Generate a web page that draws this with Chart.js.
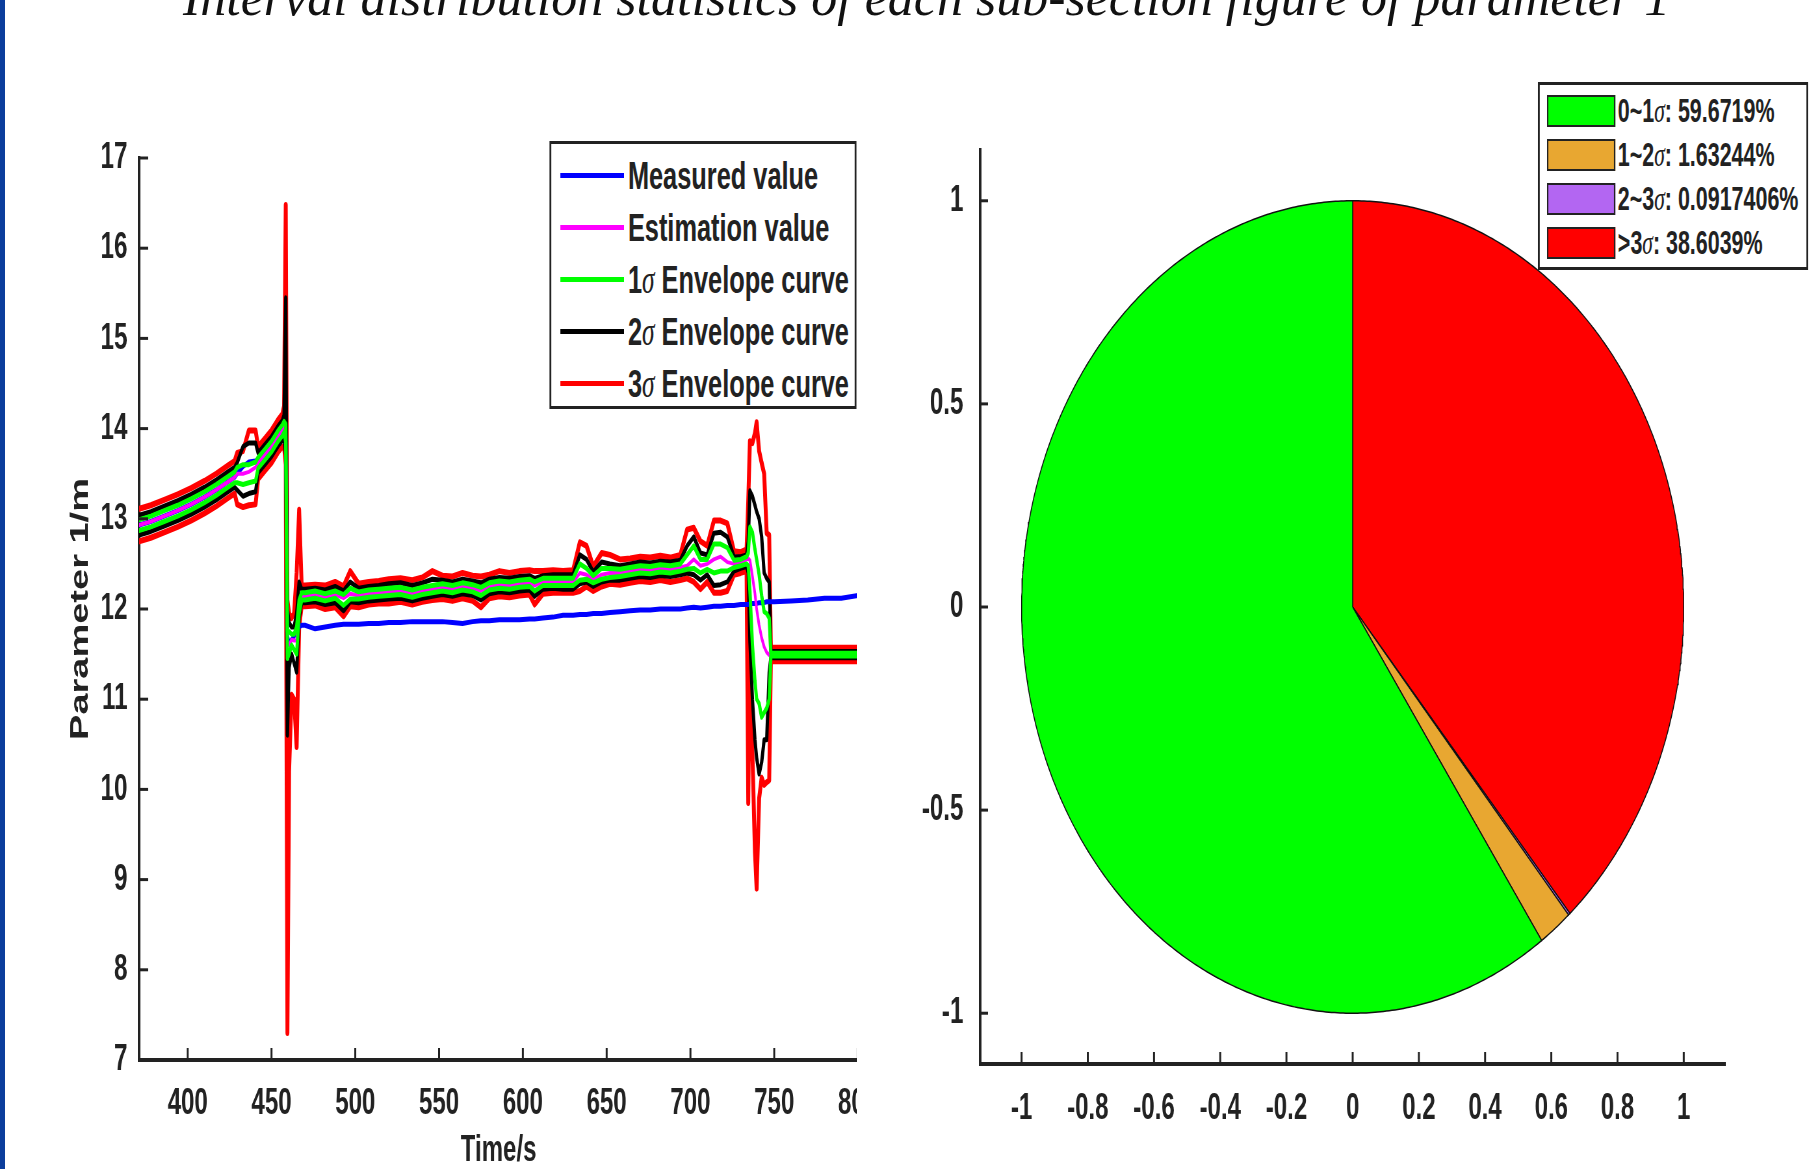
<!DOCTYPE html>
<html>
<head>
<meta charset="utf-8">
<title>Interval distribution statistics of each sub-section figure of parameter 1</title>
<script src="https://cdn.jsdelivr.net/npm/chart.js@4.4.1/dist/chart.umd.min.js"></script>
<style>
html, body { margin: 0; padding: 0; background: #fff; overflow: hidden; }
body { width: 1812px; height: 1169px; position: relative; }
#edge { position: absolute; left: 0; top: 0; width: 5px; height: 1169px; background: #0b3d9c; }
#title { position: absolute; left: 183px; top: -28px; font: italic 52px/52px "Liberation Serif", "DejaVu Serif", serif; color: #111; white-space: nowrap; }
/* the figure in the reference is squeezed sideways, so draw it wider and squeeze it */
#fig { position: absolute; left: 0; top: 0; width: 2788px; height: 1169px; transform: scaleX(0.65); transform-origin: 0 0;
       font-family: "Liberation Sans", Arial, sans-serif; font-weight: bold; color: #222; }
#leftWrap { position: absolute; left: 0; top: 0; width: 1317px; height: 1169px; overflow: hidden; }
#lineChart { position: absolute; left: 0; top: 0; }
#pieWrap { position: absolute; left: 1330px; top: 0; width: 1458px; height: 1169px; }
.box { position: absolute; background: #fff; border: 3px solid #222; box-sizing: border-box; }
.row { position: absolute; white-space: nowrap; }
.sig { font-family: "Liberation Serif", serif; font-style: italic; font-weight: normal; }
</style>
</head>
<body>
<div id="edge"></div>
<div id="title">Interval distribution statistics of each sub-section figure of parameter 1</div>
<div id="fig">
  <div id="leftWrap"><canvas id="lineChart" width="1400" height="1169"></canvas></div>
  <div id="pieWrap"><canvas id="pieChart" width="1458" height="1169"></canvas></div>
  <div id="lineLegend" class="box" style="left:845px; top:141px; width:473px; height:268px;"></div>
  <div id="pieLegend" class="box" style="left:2366px; top:82px; width:416px; height:188px;"></div>
</div>
<script>
// time axis (s)
const time = [
  371, 378, 386, 394, 402, 410, 417, 424, 428, 429.5, 433, 436.5, 440.5, 442, 446, 450, 454, 456.5,
  457.5, 458.5, 459.5, 460.5, 462, 463.5, 465, 466.5, 468,
  470, 476, 482, 488, 493, 497, 502, 508, 514, 520,
  527, 534, 540, 546, 552, 558, 564, 570, 575, 580,
  586, 592, 598, 604, 607, 612, 618, 624, 630, 634,
  638, 642, 647, 652, 658, 664, 670, 676, 682, 688,
  694, 698, 702, 706, 710, 714, 718, 722, 726, 730,
  733.5, 734.5, 735.5, 737, 738.5, 739.5, 741, 742.5, 744, 745.5, 747, 748,
  750, 760, 770, 780, 790, 800
];

const measured = [
  12.93, 12.97, 13.03, 13.09, 13.16, 13.24, 13.32, 13.41, 13.46, 13.50, 13.58, 13.63, 13.64, 13.62, 13.71, 13.80, 13.92, 13.98,
  14.02, 13.95, 11.70, 11.62, 11.66, 11.70, 11.75, 11.80, 11.82,
  11.82, 11.78, 11.80, 11.82, 11.83, 11.83, 11.83, 11.84, 11.84, 11.85,
  11.85, 11.86, 11.86, 11.86, 11.86, 11.85, 11.84, 11.86, 11.87, 11.87,
  11.88, 11.88, 11.88, 11.89, 11.89, 11.90, 11.91, 11.93, 11.93, 11.94,
  11.94, 11.95, 11.95, 11.96, 11.97, 11.98, 11.99, 11.99, 12.00, 12.00,
  12.00, 12.01, 12.02, 12.01, 12.02, 12.03, 12.03, 12.04, 12.04, 12.05,
  12.05, 12.05, 12.06, 12.06, 12.06, 12.06, 12.07, 12.07, 12.07, 12.08, 12.08, 12.08,
  12.08, 12.09, 12.10, 12.12, 12.12, 12.15
];

const estimate = [
  12.93, 12.97, 13.03, 13.09, 13.16, 13.24, 13.32, 13.41, 13.46, 13.50, 13.50, 13.52, 13.57, 13.62, 13.71, 13.80, 13.92, 13.98,
  14.02, 13.95, 11.60, 11.60, 11.66, 11.65, 11.65, 12.00, 12.14,
  12.14, 12.16, 12.13, 12.16, 12.12, 12.17, 12.15, 12.17, 12.18, 12.19,
  12.20, 12.17, 12.20, 12.22, 12.24, 12.22, 12.25, 12.23, 12.20, 12.25,
  12.27, 12.26, 12.28, 12.29, 12.26, 12.30, 12.30, 12.30, 12.30, 12.40,
  12.38, 12.33, 12.38, 12.40, 12.40, 12.42, 12.44, 12.43, 12.45, 12.44,
  12.46, 12.48, 12.55, 12.48, 12.50, 12.55, 12.58, 12.52, 12.50, 12.52,
  12.55, 12.56, 12.54, 12.36, 12.17, 12.00, 11.82, 11.68, 11.58, 11.52, 11.49, 11.49,
  11.49, 11.49, 11.49, 11.49, 11.49, 11.49
];

const sigma1Upper = [
  12.99, 13.03, 13.09, 13.15, 13.22, 13.30, 13.38, 13.47, 13.52, 13.57, 13.60, 13.60, 13.63, 13.68, 13.77, 13.86, 13.98, 14.04,
  14.08, 14.05, 11.75, 11.75, 11.72, 11.72, 11.80, 12.10, 12.18,
  12.18, 12.20, 12.17, 12.20, 12.16, 12.23, 12.19, 12.21, 12.22, 12.23,
  12.24, 12.21, 12.24, 12.26, 12.28, 12.26, 12.29, 12.27, 12.24, 12.29,
  12.31, 12.30, 12.32, 12.33, 12.30, 12.34, 12.34, 12.34, 12.34, 12.50,
  12.45, 12.37, 12.45, 12.45, 12.44, 12.46, 12.48, 12.47, 12.49, 12.48,
  12.50, 12.60, 12.70, 12.55, 12.55, 12.72, 12.72, 12.68, 12.54, 12.55,
  12.58, 12.62, 12.91, 12.85, 12.66, 12.55, 12.38, 12.15, 11.97, 11.95, 11.90, 11.51,
  11.51, 11.51, 11.51, 11.51, 11.51, 11.51
];

const sigma1Lower = [
  12.87, 12.91, 12.97, 13.03, 13.10, 13.18, 13.26, 13.35, 13.40, 13.40, 13.38, 13.40, 13.42, 13.56, 13.65, 13.74, 13.86, 13.92,
  13.96, 13.85, 11.45, 11.50, 11.60, 11.55, 11.50, 11.95, 12.10,
  12.10, 12.12, 12.09, 12.12, 12.04, 12.11, 12.11, 12.13, 12.14, 12.15,
  12.16, 12.13, 12.16, 12.18, 12.20, 12.18, 12.21, 12.19, 12.15, 12.21,
  12.23, 12.22, 12.24, 12.25, 12.20, 12.26, 12.26, 12.26, 12.26, 12.32,
  12.33, 12.29, 12.33, 12.35, 12.36, 12.38, 12.40, 12.39, 12.41, 12.40,
  12.42, 12.44, 12.45, 12.40, 12.44, 12.40, 12.42, 12.42, 12.46, 12.48,
  12.50, 12.48, 12.20, 11.60, 11.20, 11.00, 10.95, 10.80, 10.85, 10.90, 11.00, 11.48,
  11.48, 11.48, 11.48, 11.48, 11.48, 11.48
];

const sigma2Upper = [
  13.04, 13.08, 13.14, 13.20, 13.27, 13.35, 13.43, 13.52, 13.57, 13.62, 13.80, 13.84, 13.84, 13.73, 13.82, 13.91, 14.03, 14.09,
  14.15, 15.45, 12.00, 11.85, 11.80, 11.80, 11.95, 12.30, 12.22,
  12.22, 12.23, 12.21, 12.25, 12.20, 12.30, 12.23, 12.25, 12.26, 12.28,
  12.29, 12.26, 12.29, 12.33, 12.32, 12.30, 12.33, 12.31, 12.29, 12.33,
  12.35, 12.34, 12.36, 12.37, 12.34, 12.37, 12.38, 12.38, 12.38, 12.60,
  12.55, 12.41, 12.52, 12.50, 12.48, 12.50, 12.52, 12.51, 12.53, 12.52,
  12.54, 12.70, 12.80, 12.62, 12.60, 12.84, 12.85, 12.80, 12.58, 12.58,
  12.60, 12.75, 13.31, 13.25, 13.15, 13.08, 13.00, 12.80, 12.40, 12.34, 12.30, 11.53,
  11.53, 11.53, 11.53, 11.53, 11.53, 11.53
];

const sigma2Lower = [
  12.82, 12.86, 12.92, 12.98, 13.05, 13.13, 13.21, 13.30, 13.35, 13.32, 13.25, 13.28, 13.30, 13.51, 13.60, 13.69, 13.81, 13.87,
  13.90, 13.70, 10.60, 11.35, 11.50, 11.40, 11.30, 11.90, 12.07,
  12.07, 12.08, 12.05, 12.07, 11.98, 12.08, 12.07, 12.09, 12.10, 12.11,
  12.12, 12.09, 12.12, 12.14, 12.16, 12.14, 12.17, 12.15, 12.10, 12.17,
  12.19, 12.18, 12.20, 12.21, 12.14, 12.22, 12.23, 12.22, 12.22, 12.28,
  12.30, 12.25, 12.30, 12.32, 12.32, 12.34, 12.36, 12.35, 12.37, 12.36,
  12.38, 12.40, 12.38, 12.32, 12.38, 12.26, 12.27, 12.30, 12.42, 12.45,
  12.47, 12.40, 11.64, 11.00, 10.55, 10.35, 10.17, 10.30, 10.55, 10.55, 11.30, 11.46,
  11.46, 11.46, 11.46, 11.46, 11.46, 11.46
];

const sigma3Upper = [
  13.11, 13.15, 13.21, 13.27, 13.34, 13.42, 13.50, 13.59, 13.64, 13.73, 13.75, 13.98, 13.98, 13.80, 13.89, 13.98, 14.10, 14.16,
  14.25, 16.48, 12.10, 11.95, 11.90, 11.95, 12.40, 13.10, 12.26,
  12.26, 12.27, 12.26, 12.30, 12.25, 12.42, 12.28, 12.30, 12.31, 12.33,
  12.34, 12.32, 12.35, 12.42, 12.37, 12.36, 12.40, 12.37, 12.36, 12.38,
  12.42, 12.40, 12.42, 12.43, 12.42, 12.42, 12.43, 12.42, 12.43, 12.74,
  12.70, 12.47, 12.62, 12.60, 12.55, 12.56, 12.58, 12.57, 12.59, 12.57,
  12.60, 12.88, 12.90, 12.75, 12.70, 12.98, 12.98, 12.95, 12.64, 12.63,
  12.66, 13.20, 13.86, 13.84, 13.95, 14.07, 13.75, 13.62, 13.50, 12.84, 12.82, 11.57,
  11.57, 11.57, 11.57, 11.57, 11.57, 11.57
];

const sigma3Lower = [
  12.75, 12.79, 12.85, 12.91, 12.98, 13.06, 13.14, 13.23, 13.28, 13.16, 13.13, 13.15, 13.16, 13.44, 13.53, 13.62, 13.74, 13.80,
  13.80, 13.60, 7.30, 10.20, 11.05, 11.00, 10.47, 11.80, 12.03,
  12.03, 12.04, 12.00, 12.02, 11.92, 12.03, 12.02, 12.05, 12.06, 12.06,
  12.08, 12.05, 12.08, 12.10, 12.11, 12.09, 12.12, 12.09, 12.02, 12.12,
  12.14, 12.13, 12.15, 12.16, 12.05, 12.17, 12.18, 12.18, 12.18, 12.20,
  12.25, 12.20, 12.25, 12.28, 12.27, 12.29, 12.31, 12.30, 12.32, 12.30,
  12.32, 12.34, 12.30, 12.22, 12.30, 12.18, 12.18, 12.20, 12.38, 12.40,
  12.42, 9.85, 11.60, 10.40, 9.30, 8.90, 9.90, 10.13, 10.05, 10.08, 10.10, 11.42,
  11.42, 11.42, 11.42, 11.42, 11.42, 11.42
];

const lineNames = ['Measured value', 'Estimation value', '1σ Envelope curve', '2σ Envelope curve', '3σ Envelope curve'];
const lineColors = ['#0000ff', '#ff00ff', '#00ff00', '#000000', '#ff0000'];

const pieLabels = ['0~1σ', '1~2σ', '2~3σ', '>3σ'];
const pieValues = [59.6719, 1.63244, 0.0917406, 38.6039];
const pieColors = ['#00ff00', '#e8a731', '#b366f2', '#ff0000'];

const tickFont = { family: 'Liberation Sans', weight: 'bold', size: 37 };
const ink = '#222';

// ticks drawn inward, like the original plot
const inTicks = {
  id: 'inTicks',
  afterDraw(chart, args, opts) {
    const ctx = chart.ctx, a = chart.chartArea;
    const xs = chart.scales.x, ys = chart.scales.y;
    ctx.save();
    ctx.strokeStyle = ink;
    ctx.lineWidth = 3;
    xs.ticks.forEach(t => {
      const p = xs.getPixelForValue(t.value);
      ctx.beginPath(); ctx.moveTo(p, a.bottom); ctx.lineTo(p, a.bottom - opts.xLen); ctx.stroke();
    });
    ys.ticks.forEach(t => {
      const p = ys.getPixelForValue(t.value);
      ctx.beginPath(); ctx.moveTo(a.left, p); ctx.lineTo(a.left + opts.yLen, p); ctx.stroke();
    });
    ctx.restore();
  }
};

function pts(ys) {
  return time.map((t, i) => ({ x: t, y: ys[i] }));
}

function lineSet(ys, color, width, order) {
  return {
    data: pts(ys), borderColor: color, borderWidth: width, showLine: true,
    pointRadius: 0, fill: false, tension: 0, order: order,
    borderJoinStyle: 'round', borderCapStyle: 'round'
  };
}

const plainNum = v => String(Math.round(v * 10) / 10);

new Chart(document.getElementById('lineChart'), {
  type: 'scatter',
  data: {
    datasets: [
      lineSet(sigma3Upper, lineColors[4], 6, 5),
      lineSet(sigma3Lower, lineColors[4], 6, 5),
      lineSet(sigma2Upper, lineColors[3], 5, 4),
      lineSet(sigma2Lower, lineColors[3], 5, 4),
      lineSet(measured, lineColors[0], 5, 3),
      lineSet(estimate, lineColors[1], 4, 2),
      lineSet(sigma1Upper, lineColors[2], 5, 1),
      lineSet(sigma1Lower, lineColors[2], 5, 1)
    ]
  },
  options: {
    responsive: false,
    animation: false,
    layout: { padding: { left: 0, top: 158, right: 80, bottom: 0 } },
    plugins: { legend: { display: false }, tooltip: { enabled: false }, inTicks: { xLen: 12, yLen: 14 } },
    scales: {
      x: {
        type: 'linear', min: 371, max: 800,
        ticks: { stepSize: 50, includeBounds: false, padding: 14, color: ink, font: tickFont, maxRotation: 0, autoSkip: false },
        grid: { display: false },
        border: { display: true, color: ink, width: 4 },
        title: { display: true, text: 'Time/s', color: ink, font: { family: 'Liberation Sans', weight: 'bold', size: 37, lineHeight: 1 }, padding: 0 },
        afterFit: s => { s.height = 109; }
      },
      y: {
        min: 7, max: 17,
        ticks: { stepSize: 1, padding: 10, color: ink, font: tickFont },
        grid: { display: false },
        border: { display: true, color: ink, width: 4 },
        title: { display: true, text: 'Parameter 1/m', color: ink, font: { family: 'Liberation Sans', weight: 'bold', size: 38 }, padding: { top: 102, bottom: 0 } },
        afterFit: s => { s.width = 214; }
      }
    }
  },
  plugins: [inTicks]
});

// pie drawn as filled wedges on real -1..1 axes (the original axes are not equal, so the pie is an ellipse)
function wedgePoints(i) {
  const total = pieValues.reduce((a, b) => a + b, 0);
  let before = 0;
  for (let k = 0; k < i; k++) before += pieValues[k];
  const a0 = Math.PI / 2 + before / total * 2 * Math.PI;
  const a1 = Math.PI / 2 + (before + pieValues[i]) / total * 2 * Math.PI;
  const n = Math.max(2, Math.ceil((a1 - a0) / (Math.PI / 360)));
  const p = [{ x: 0, y: 0 }];
  for (let j = 0; j <= n; j++) {
    const a = a0 + (a1 - a0) * j / n;
    p.push({ x: Math.cos(a), y: Math.sin(a) });
  }
  p.push({ x: 0, y: 0 });
  return p;
}

const wedgeFill = {
  id: 'wedgeFill',
  beforeDatasetDraw(chart, args) {
    const ds = chart.data.datasets[args.index];
    const ctx = chart.ctx;
    ctx.save();
    ctx.beginPath();
    args.meta.data.forEach((p, j) => j ? ctx.lineTo(p.x, p.y) : ctx.moveTo(p.x, p.y));
    ctx.closePath();
    ctx.fillStyle = ds.backgroundColor;
    ctx.fill();
    ctx.restore();
  }
};

new Chart(document.getElementById('pieChart'), {
  type: 'scatter',
  data: {
    datasets: pieValues.map((v, i) => ({
      data: wedgePoints(i), backgroundColor: pieColors[i], borderColor: '#111', borderWidth: 1.5,
      showLine: true, pointRadius: 0, fill: false, tension: 0
    }))
  },
  options: {
    responsive: false,
    animation: false,
    layout: { padding: { left: 0, top: 150, right: 134, bottom: 0 } },
    plugins: { legend: { display: false }, tooltip: { enabled: false }, inTicks: { xLen: 12, yLen: 12 } },
    scales: {
      x: {
        type: 'linear', min: -1.125, max: 1.125,
        ticks: { stepSize: 0.2, includeBounds: false, padding: 15, color: ink, font: tickFont, maxRotation: 0, autoSkip: false, callback: plainNum },
        grid: { display: false },
        border: { display: true, color: ink, width: 4 },
        afterFit: s => { s.height = 105; }
      },
      y: {
        min: -1.125, max: 1.125,
        ticks: { stepSize: 0.5, includeBounds: false, padding: 18, color: ink, font: tickFont, callback: plainNum },
        grid: { display: false },
        border: { display: true, color: ink, width: 4 },
        afterFit: s => { s.width = 178; }
      }
    }
  },
  plugins: [wedgeFill, inTicks]
});

// legends
function sigmaText(s) {
  return s.replace('σ', '<span class="sig">σ</span>');
}

const lineLegend = document.getElementById('lineLegend');
lineNames.forEach((name, i) => {
  const cy = 32 + i * 52;
  const sample = document.createElement('div');
  sample.className = 'row';
  sample.style.cssText = `left:14px; top:${cy - 3}px; width:98px; height:5px; background:${lineColors[i]};`;
  lineLegend.appendChild(sample);
  const label = document.createElement('div');
  label.className = 'row';
  label.style.cssText = `left:118px; top:${cy - 22}px; font-size:39px; line-height:44px;`;
  label.innerHTML = sigmaText(name);
  lineLegend.appendChild(label);
});

const pieLegend = document.getElementById('pieLegend');
pieLabels.forEach((name, i) => {
  const cy = 26 + i * 44;
  const patch = document.createElement('div');
  patch.className = 'row';
  patch.style.cssText = `left:11px; top:${cy - 16}px; width:105px; height:32px; box-sizing:border-box; border:2px solid #222; background:${pieColors[i]};`;
  pieLegend.appendChild(patch);
  const label = document.createElement('div');
  label.className = 'row';
  label.style.cssText = `left:120px; top:${cy - 19}px; font-size:33px; line-height:38px;`;
  label.innerHTML = sigmaText(name) + ': ' + pieValues[i] + '%';
  pieLegend.appendChild(label);
});
</script>
</body>
</html>
